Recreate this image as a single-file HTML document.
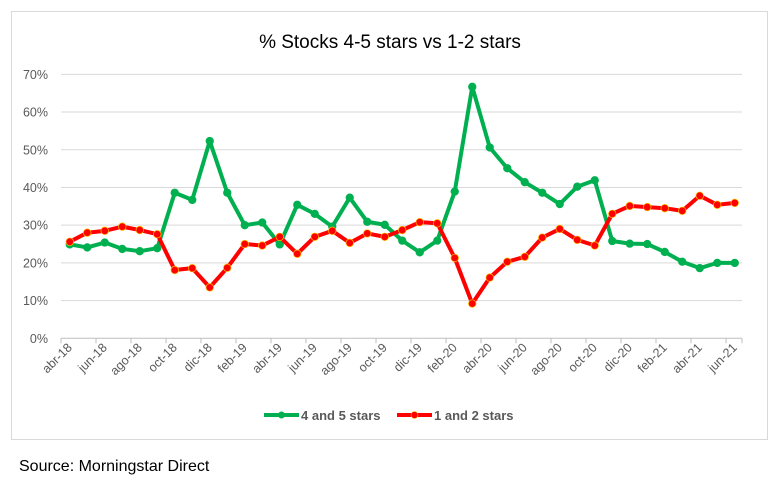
<!DOCTYPE html>
<html><head><meta charset="utf-8"><style>
body{margin:0;background:#fff;width:781px;height:481px;overflow:hidden;font-family:"Liberation Sans",sans-serif}
</style></head><body>
<svg width="781" height="481" xmlns="http://www.w3.org/2000/svg" font-family="Liberation Sans, sans-serif">
<rect x="11.5" y="11.5" width="756" height="428" fill="#fff" stroke="#d9d9d9"/>
<text x="390" y="48" text-anchor="middle" font-size="19" fill="#000">% Stocks 4-5 stars vs 1-2 stars</text>
<g id="grid" stroke="#d9d9d9" stroke-width="1"></g>
<g id="yl" font-size="12.5" fill="#595959" text-anchor="end"></g>
<g id="xl" font-size="12.5" fill="#595959" text-anchor="end"></g>
<g id="ser"></g>
<line x1="264" y1="415" x2="299" y2="415" stroke="#00b050" stroke-width="4"/>
<circle cx="281.5" cy="415" r="3.5" fill="#00b050"/>
<text x="301" y="420" font-size="13" font-weight="bold" fill="#595959">4 and 5 stars</text>
<line x1="397" y1="415" x2="432" y2="415" stroke="#ff0000" stroke-width="4"/>
<circle cx="414.5" cy="415" r="3.5" fill="#ff0000" stroke="#ffc000" stroke-width="0.6"/>
<text x="434" y="420" font-size="13" font-weight="bold" fill="#595959">1 and 2 stars</text>
<text x="19" y="471" font-size="16" fill="#000">Source: Morningstar Direct</text>
</svg>
<script>
const NS="http://www.w3.org/2000/svg";
function el(t,a,p,txt){const e=document.createElementNS(NS,t);for(const k in a)e.setAttribute(k,a[k]);if(txt!=null)e.textContent=txt;document.getElementById(p).appendChild(e);return e;}
const y0=338.3,per=37.71,x0=61,cw=17.5;
const Y=v=>y0-v/10*per, X=i=>x0+cw/2+cw*i;
for(let k=0;k<=7;k++){const y=Y(k*10);el('line',{x1:61,x2:742,y1:y,y2:y,stroke:k==0?'#bfbfbf':'#d9d9d9'},'grid');el('text',{x:48,y:y+4.5},'yl',k*10+'%');}
for(let k=0;k<=20;k++){const x=Math.min(x0+35*k,742);el('line',{x1:x,x2:x,y1:y0,y2:y0+5,stroke:'#bfbfbf'},'grid');}
const labs=["abr-18","jun-18","ago-18","oct-18","dic-18","feb-19","abr-19","jun-19","ago-19","oct-19","dic-19","feb-20","abr-20","jun-20","ago-20","oct-20","dic-20","feb-21","abr-21","jun-21"];
labs.forEach((l,j)=>{const x=X(2*j)+3,y=y0+10;el('text',{x:x,y:y,transform:`rotate(-45 ${x} ${y})`},'xl',l);});
const g=[24.9,24.1,25.4,23.7,23.1,23.9,38.6,36.7,52.3,38.6,30.0,30.7,24.9,35.4,33.0,29.6,37.3,30.9,30.1,25.9,22.8,25.9,38.9,66.7,50.6,45.1,41.4,38.6,35.6,40.2,41.9,25.8,25.1,25.0,22.9,20.3,18.6,20.0,20.0];
const r=[25.6,28.0,28.5,29.6,28.7,27.6,18.1,18.6,13.5,18.7,25.0,24.6,26.9,22.4,26.9,28.5,25.3,27.8,26.9,28.7,30.8,30.5,21.3,9.2,16.1,20.3,21.6,26.7,29.0,26.1,24.6,33.0,35.1,34.8,34.5,33.8,37.8,35.4,35.9];
function series(d,c,st){el('polyline',{points:d.map((v,i)=>X(i)+','+Y(v)).join(' '),fill:'none',stroke:c,'stroke-width':4,'stroke-linejoin':'round'},'ser');
d.forEach((v,i)=>el('circle',{cx:X(i),cy:Y(v),r:3.8,fill:c,stroke:st,'stroke-width':0.7},'ser'));}
series(g,'#00b050','#00b050');series(r,'#ff0000','#ffc000');
</script>
</body></html>
